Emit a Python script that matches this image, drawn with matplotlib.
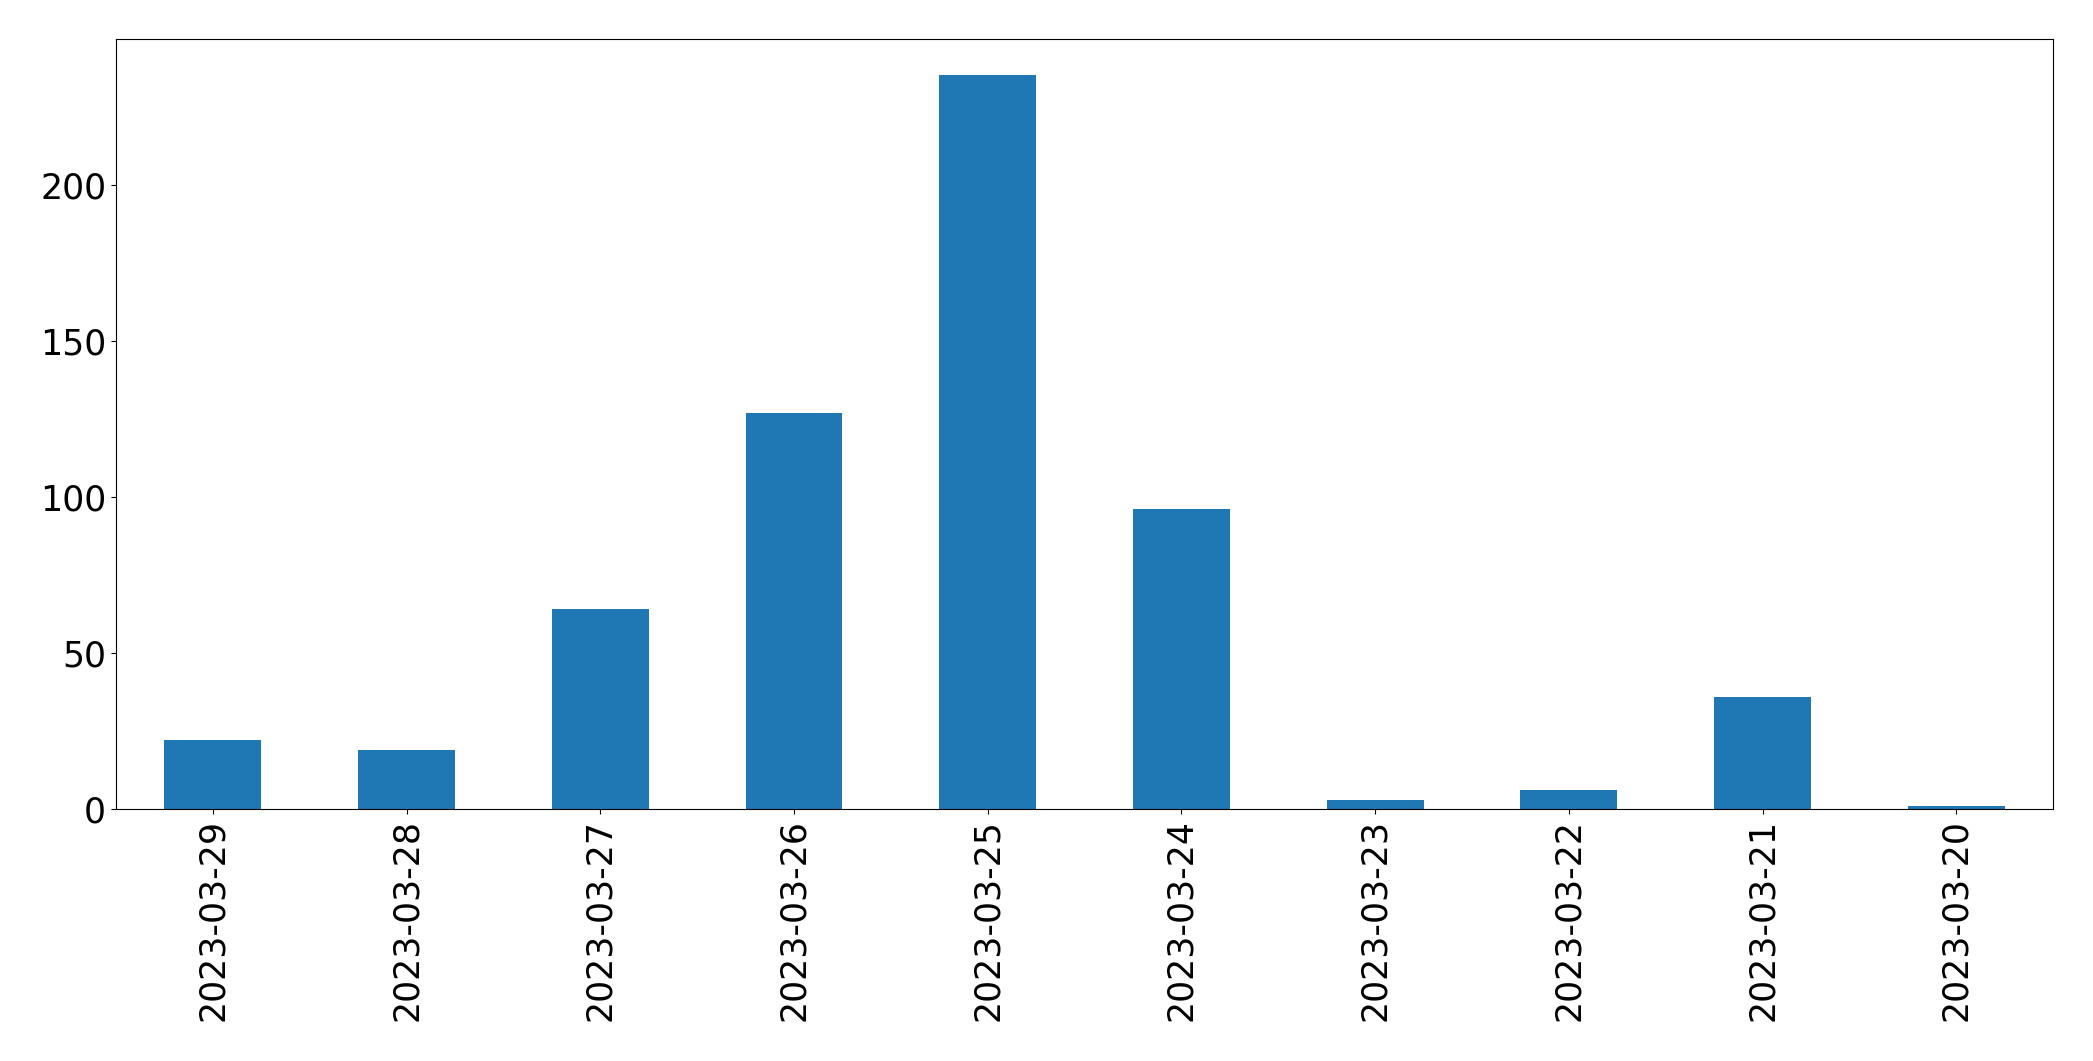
import matplotlib
matplotlib.use("Agg")
import matplotlib.pyplot as plt
import numpy as np

dates = ["2023-03-29", "2023-03-28", "2023-03-27", "2023-03-26", "2023-03-25",
         "2023-03-24", "2023-03-23", "2023-03-22", "2023-03-21", "2023-03-20"]
counts = [22, 19, 64, 127, 235, 96, 3, 6, 36, 1]

fig = plt.figure(figsize=(20.93, 10.61), dpi=100)
ax = fig.add_axes([0.0554, 0.2375, 0.9256, 0.726])
x = np.arange(len(dates))
ax.bar(x, counts, width=0.5, color="#1f77b4")
ax.set_xlim(-0.5, len(dates) - 0.5)
ax.set_xticks(x)
ax.set_xticklabels(dates, rotation=90)
ax.tick_params(labelsize=25)
fig.savefig("out.png", dpi=100)
